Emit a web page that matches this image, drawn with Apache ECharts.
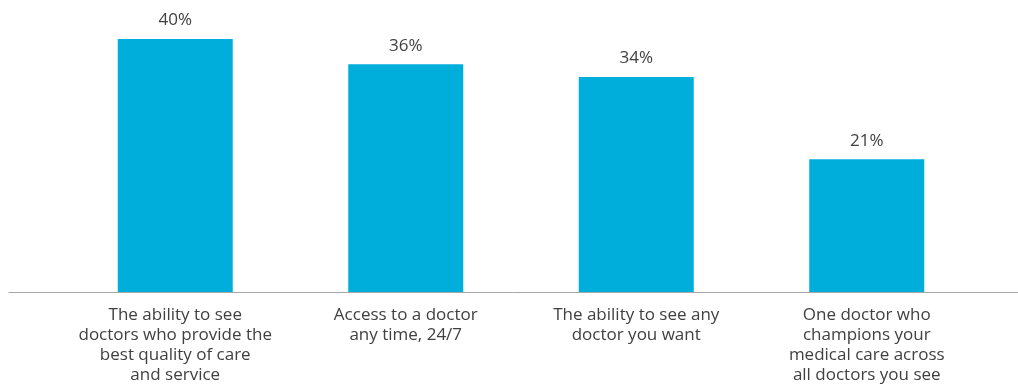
<!DOCTYPE html>
<html><head><meta charset="utf-8">
<script src="https://cdn.jsdelivr.net/npm/echarts@6/dist/echarts.min.js"></script>
<style>html,body{margin:0;padding:0;background:#fff}#c{width:1018px;height:387px}</style>
</head><body><div id="c"></div>
<script>
const categories = [
  "The ability to see\ndoctors who provide the\nbest quality of care\nand service",
  "Access to a doctor\nany time, 24/7",
  "The ability to see any\ndoctor you want",
  "One doctor who\nchampions your\nmedical care across\nall doctors you see"
];
const values = [40, 36, 34, 21];

const chart = echarts.init(document.getElementById('c'));
chart.setOption({
  animation: false,
  grid: [
    {left: 60, right: 36, top: 39, bottom: 95},
    {left: 9, right: 0, top: 39, bottom: 95}
  ],
  xAxis: [
    {type: 'category', data: categories, gridIndex: 0,
     axisLine: {show: false}, axisTick: {show: false},
     axisLabel: {interval: 0, margin: 13, color: '#404040', fontFamily: 'Open Sans', fontSize: 17, lineHeight: 20}},
    {type: 'value', gridIndex: 1, min: 0, max: 1, position: 'bottom',
     axisLine: {show: true, onZero: false, lineStyle: {color: '#a6a6a6', width: 1}},
     axisTick: {show: false}, axisLabel: {show: false}, splitLine: {show: false}}
  ],
  yAxis: [
    {type: 'value', gridIndex: 0, min: 0, max: 40, show: false},
    {type: 'value', gridIndex: 1, min: 0, max: 1, show: false}
  ],
  series: [{
    type: 'bar', data: values, barWidth: 115,
    itemStyle: {color: '#00AEDB'},
    label: {show: true, position: 'top', distance: 10, formatter: '{c}%', color: '#404040', fontFamily: 'Open Sans', fontSize: 17}
  }]
});
</script></body></html>
